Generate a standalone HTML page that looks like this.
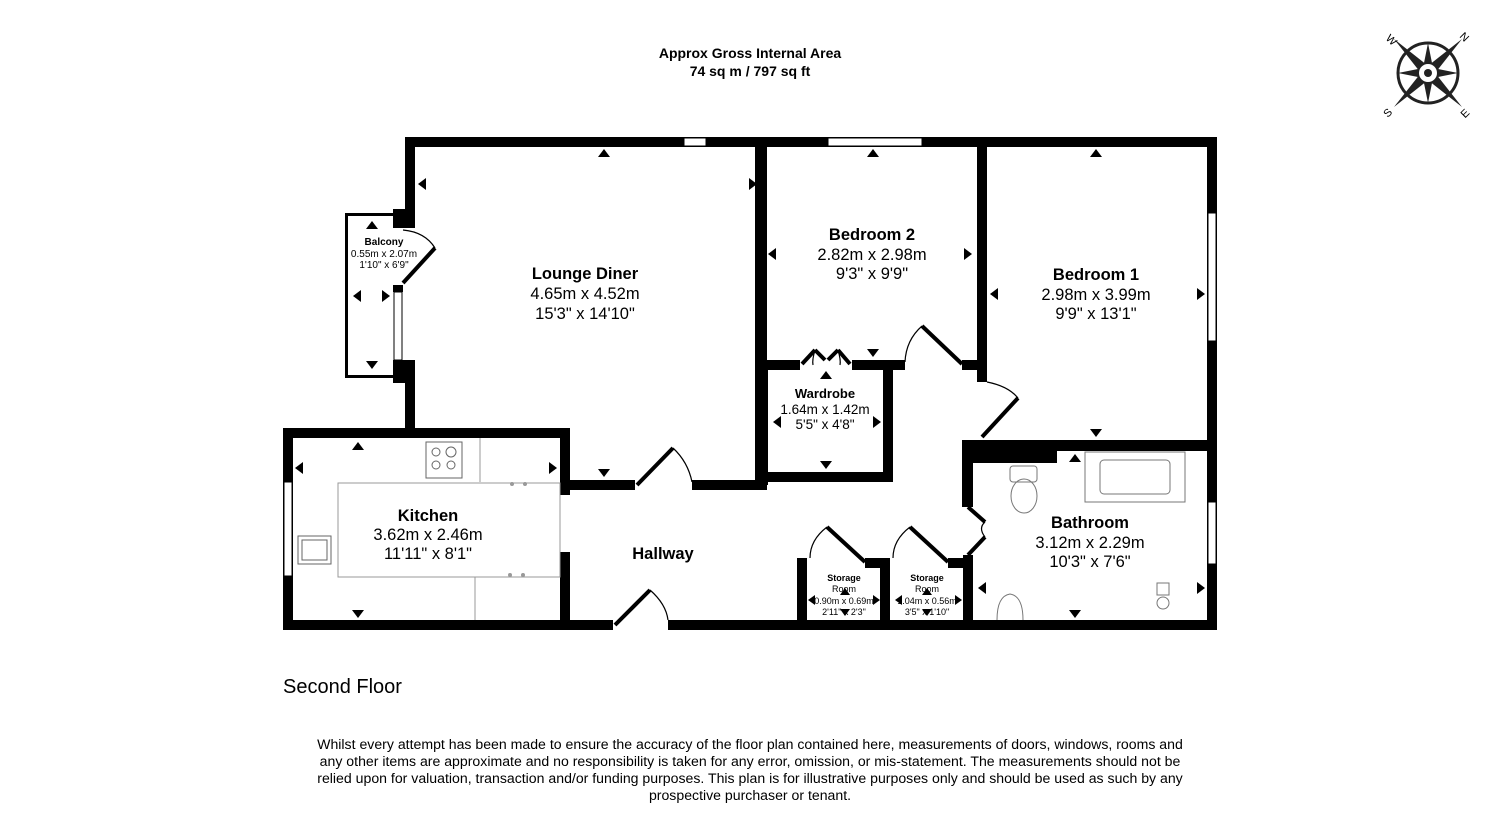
<!DOCTYPE html>
<html><head><meta charset="utf-8"><style>
html,body{margin:0;padding:0;background:#fff}
svg{display:block}
text{font-family:"Liberation Sans",Arial,sans-serif;fill:#000}
.t{font-weight:bold;font-size:16.5px}
.d{font-size:16.5px}
.s{font-size:10px}
.sb{font-size:10px;font-weight:bold}
</style></head><body>
<svg width="1500" height="826" viewBox="0 0 1500 826" xmlns="http://www.w3.org/2000/svg">
<text x="750" y="58" text-anchor="middle" style="font-weight:bold;font-size:14px">Approx Gross Internal Area</text>
<text x="750" y="76" text-anchor="middle" style="font-weight:bold;font-size:14px">74 sq m / 797 sq ft</text>

<!-- compass -->
<g transform="translate(1428,73)">
<circle r="30" fill="none" stroke="#222" stroke-width="3"/>
<polygon points="0,-30 5,-5 30,0 5,5 0,30 -5,5 -30,0 -5,-5" fill="#222"/>
<polygon points="-34,-34 4,-4 34,34 -4,4" fill="#222"/>
<polygon points="34,-34 4,4 -34,34 -4,-4" fill="#222"/>
<circle r="10" fill="#fff" stroke="#222" stroke-width="2"/>
<circle r="4" fill="#222"/>
<text x="-40" y="-33" style="font-size:11px" transform="rotate(45 -40 -37)">W</text>
<text x="33" y="-33" style="font-size:11px" transform="rotate(45 36 -37)">N</text>
<text x="-44" y="44" style="font-size:11px" transform="rotate(-45 -41 40)">S</text>
<text x="33" y="44" style="font-size:11px" transform="rotate(-45 37 40)">E</text>
</g>

<g fill="#000">
<rect x="405" y="137" width="812" height="10"/>
<rect x="405" y="137" width="10" height="83"/>
<rect x="393" y="209" width="22" height="19"/>
<rect x="393" y="285" width="10" height="7"/>
<rect x="393" y="360" width="22" height="23"/>
<rect x="405" y="360" width="10" height="70"/>
<rect x="345" y="213" width="3" height="165"/>
<rect x="345" y="213" width="48" height="3"/>
<rect x="345" y="375" width="48" height="3"/>
<rect x="283" y="428" width="287" height="10"/>
<rect x="283" y="428" width="10" height="202"/>
<rect x="560" y="428" width="10" height="67"/>
<rect x="560" y="552" width="10" height="75"/>
<rect x="570" y="480" width="65" height="10"/>
<rect x="692" y="480" width="73" height="10"/>
<rect x="755" y="137" width="12" height="353"/>
<rect x="283" y="620" width="330" height="10"/>
<rect x="668" y="620" width="549" height="10"/>
<rect x="765" y="360" width="35" height="10"/>
<rect x="852" y="360" width="53" height="10"/>
<rect x="962" y="360" width="25" height="10"/>
<rect x="977" y="137" width="10" height="245"/>
<rect x="760" y="360" width="8" height="125"/>
<rect x="883" y="360" width="10" height="122"/>
<rect x="765" y="472" width="128" height="10"/>
<rect x="1207" y="137" width="10" height="493"/>
<rect x="962" y="440" width="255" height="11"/>
<rect x="962" y="440" width="95" height="23"/>
<rect x="962" y="440" width="11" height="67"/>
<rect x="963" y="555" width="10" height="70"/>
<rect x="797" y="558" width="10" height="64"/>
<rect x="865" y="558" width="25" height="10"/>
<rect x="880" y="558" width="10" height="64"/>
<rect x="948" y="558" width="22" height="10"/>
</g>

<g fill="#fff" stroke="#000" stroke-width="1">
<rect x="684" y="138" width="22" height="8"/>
<rect x="828" y="138" width="94" height="8"/>
<rect x="1208" y="213" width="8" height="128"/>
<rect x="1208" y="502" width="8" height="62"/>
<rect x="284" y="482" width="8" height="94"/>
<rect x="394" y="292" width="8" height="68"/>
</g>

<g fill="none" stroke="#000" stroke-width="4">
<line x1="403" y1="283" x2="435" y2="248"/>
<line x1="637" y1="485" x2="673" y2="448"/>
<line x1="615" y1="625" x2="650" y2="590"/>
<line x1="802" y1="364" x2="815" y2="350"/><line x1="815" y1="350" x2="825" y2="360"/>
<line x1="850" y1="364" x2="838" y2="350"/><line x1="838" y1="350" x2="828" y2="360"/>
<line x1="922" y1="326" x2="962" y2="364"/>
<line x1="982" y1="437" x2="1018" y2="398"/>
<line x1="968" y1="507" x2="985" y2="522"/><line x1="968" y1="555" x2="985" y2="537"/>
<line x1="827" y1="527" x2="865" y2="562"/>
<line x1="910" y1="527" x2="948" y2="562"/>
</g>
<g fill="none" stroke="#000" stroke-width="1.2">
<path d="M403,230 Q425,232 435,248"/>
<path d="M673,448 Q688,462 692,482"/>
<path d="M650,590 Q666,604 668,620"/>
<path d="M922,326 Q906,340 905,362"/>
<path d="M987,382 Q1008,386 1018,398"/>
<path d="M827,527 Q810,540 810,558"/>
<path d="M910,527 Q893,540 893,558"/>
<path d="M985,522 Q978,528 985,537"/>
<path d="M815,350 Q812,360 813,365"/><path d="M838,350 Q841,360 840,365"/>
</g>

<g fill="none" stroke="#999" stroke-width="1">
<rect x="338" y="483" width="222" height="94"/>
<line x1="480" y1="438" x2="480" y2="482"/>
<line x1="475" y1="577" x2="475" y2="620"/>
<rect x="426" y="442" width="36" height="36" stroke="#666"/>
<circle cx="436" cy="452" r="4" stroke="#666"/><circle cx="451" cy="452" r="5" stroke="#666"/>
<circle cx="436" cy="465" r="4" stroke="#666"/><circle cx="451" cy="465" r="4" stroke="#666"/>
<rect x="298" y="536" width="33" height="28" stroke="#666"/>
<rect x="302" y="540" width="25" height="20" stroke="#666"/>
<rect x="1085" y="452" width="100" height="50" stroke="#777"/>
<rect x="1100" y="460" width="70" height="34" rx="4" stroke="#777"/>
<rect x="1010" y="466" width="27" height="16" rx="3" stroke="#777"/>
<ellipse cx="1024" cy="496" rx="13" ry="17" stroke="#777"/>
<path d="M997,620 Q997,596 1010,594 Q1023,596 1023,620" stroke="#777"/>
<rect x="1157" y="583" width="12" height="12" stroke="#777"/>
<circle cx="1163" cy="603" r="6" stroke="#777"/>
</g>
<g fill="#999"><circle cx="512" cy="484" r="2"/><circle cx="525" cy="484" r="2"/><circle cx="510" cy="575" r="2"/><circle cx="523" cy="575" r="2"/></g>

<g fill="#000">
<path d="M598,157 l6,-8 l6,8z"/><path d="M867,157 l6,-8 l6,8z"/><path d="M1090,157 l6,-8 l6,8z"/>
<path d="M426,178 l-8,6 l8,6z"/><path d="M749,178 l8,6 l-8,6z"/>
<path d="M776,248 l-8,6 l8,6z"/><path d="M964,248 l8,6 l-8,6z"/>
<path d="M998,288 l-8,6 l8,6z"/><path d="M1197,288 l8,6 l-8,6z"/>
<path d="M598,469 l6,8 l6,-8z"/><path d="M867,349 l6,8 l6,-8z"/><path d="M1090,429 l6,8 l6,-8z"/>
<path d="M366,229 l6,-8 l6,8z"/><path d="M366,361 l6,8 l6,-8z"/>
<path d="M361,290 l-8,6 l8,6z"/><path d="M382,290 l8,6 l-8,6z"/>
<path d="M352,450 l6,-8 l6,8z"/><path d="M352,610 l6,8 l6,-8z"/>
<path d="M303,462 l-8,6 l8,6z"/><path d="M549,462 l8,6 l-8,6z"/>
<path d="M820,379 l6,-8 l6,8z"/><path d="M820,461 l6,8 l6,-8z"/>
<path d="M781,416 l-8,6 l8,6z"/><path d="M873,416 l8,6 l-8,6z"/>
<path d="M1069,462 l6,-8 l6,8z"/><path d="M1069,610 l6,8 l6,-8z"/>
<path d="M986,582 l-8,6 l8,6z"/><path d="M1197,582 l8,6 l-8,6z"/>
<path d="M840,595 l5,-7 l5,7z"/><path d="M840,609 l5,7 l5,-7z"/>
<path d="M815,595 l-7,5 l7,5z"/><path d="M873,595 l7,5 l-7,5z"/>
<path d="M922,595 l5,-7 l5,7z"/><path d="M922,609 l5,7 l5,-7z"/>
<path d="M902,595 l-7,5 l7,5z"/><path d="M955,595 l7,5 l-7,5z"/>
</g>

<text x="585" y="279" text-anchor="middle" class="t">Lounge Diner</text>
<text x="585" y="299" text-anchor="middle" class="d">4.65m x 4.52m</text>
<text x="585" y="319" text-anchor="middle" class="d">15'3" x 14'10"</text>
<text x="872" y="240" text-anchor="middle" class="t">Bedroom 2</text>
<text x="872" y="260" text-anchor="middle" class="d">2.82m x 2.98m</text>
<text x="872" y="279" text-anchor="middle" class="d">9'3" x 9'9"</text>
<text x="1096" y="280" text-anchor="middle" class="t">Bedroom 1</text>
<text x="1096" y="300" text-anchor="middle" class="d">2.98m x 3.99m</text>
<text x="1096" y="319" text-anchor="middle" class="d">9'9" x 13'1"</text>
<text x="428" y="521" text-anchor="middle" class="t">Kitchen</text>
<text x="428" y="540" text-anchor="middle" class="d">3.62m x 2.46m</text>
<text x="428" y="559" text-anchor="middle" class="d">11'11" x 8'1"</text>
<text x="663" y="559" text-anchor="middle" class="t">Hallway</text>
<text x="1090" y="528" text-anchor="middle" class="t">Bathroom</text>
<text x="1090" y="548" text-anchor="middle" class="d">3.12m x 2.29m</text>
<text x="1090" y="567" text-anchor="middle" class="d">10'3" x 7'6"</text>
<text x="825" y="398" text-anchor="middle" style="font-weight:bold;font-size:13px">Wardrobe</text>
<text x="825" y="414" text-anchor="middle" style="font-size:13.5px">1.64m x 1.42m</text>
<text x="825" y="429" text-anchor="middle" style="font-size:13.5px">5'5" x 4'8"</text>
<text x="384" y="245" text-anchor="middle" class="sb">Balcony</text>
<text x="384" y="257" text-anchor="middle" class="s">0.55m x 2.07m</text>
<text x="384" y="268" text-anchor="middle" class="s">1'10" x 6'9"</text>
<text x="844" y="581" text-anchor="middle" style="font-weight:bold;font-size:9px">Storage</text>
<text x="844" y="592" text-anchor="middle" style="font-size:9px">Room</text>
<text x="844" y="604" text-anchor="middle" style="font-size:9px">0.90m x 0.69m</text>
<text x="844" y="615" text-anchor="middle" style="font-size:9px">2'11" x 2'3"</text>
<text x="927" y="581" text-anchor="middle" style="font-weight:bold;font-size:9px">Storage</text>
<text x="927" y="592" text-anchor="middle" style="font-size:9px">Room</text>
<text x="927" y="604" text-anchor="middle" style="font-size:9px">1.04m x 0.56m</text>
<text x="927" y="615" text-anchor="middle" style="font-size:9px">3'5" x 1'10"</text>

<text x="283" y="693" style="font-size:20px">Second Floor</text>
<g style="font-size:14.1px" text-anchor="middle">
<text x="750" y="749">Whilst every attempt has been made to ensure the accuracy of the floor plan contained here, measurements of doors, windows, rooms and</text>
<text x="750" y="766">any other items are approximate and no responsibility is taken for any error, omission, or mis-statement. The measurements should not be</text>
<text x="750" y="783">relied upon for valuation, transaction and/or funding purposes. This plan is for illustrative purposes only and should be used as such by any</text>
<text x="750" y="800">prospective purchaser or tenant.</text>
</g>
</svg>
</body></html>
